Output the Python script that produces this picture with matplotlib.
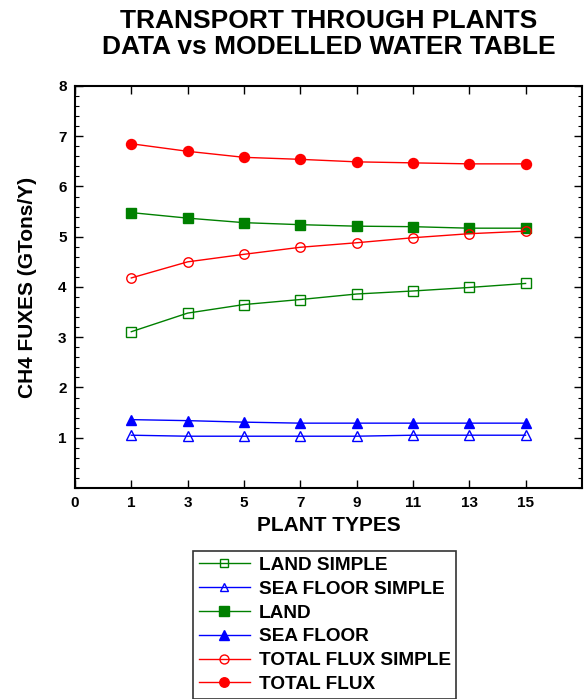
import matplotlib
matplotlib.use('Agg')
import matplotlib.pyplot as plt
from matplotlib.ticker import MultipleLocator, FixedLocator
import numpy as np

plt.rcParams['font.family'] = ['Liberation Sans', 'DejaVu Sans']
plt.rcParams['font.weight'] = 'bold'

# data
plant_types = [1, 3, 5, 7, 9, 11, 13, 15]
land_simple = [3.11, 3.48, 3.65, 3.75, 3.86, 3.92, 3.99, 4.07]
sea_floor_simple = [1.05, 1.03, 1.03, 1.03, 1.03, 1.05, 1.05, 1.05]
land = [5.48, 5.37, 5.28, 5.24, 5.21, 5.20, 5.17, 5.17]
sea_floor = [1.36, 1.34, 1.31, 1.29, 1.29, 1.29, 1.29, 1.29]
total_flux_simple = [4.18, 4.50, 4.65, 4.79, 4.88, 4.98, 5.06, 5.11]
total_flux = [6.85, 6.70, 6.58, 6.54, 6.49, 6.47, 6.45, 6.45]

green = '#008000'
blue = '#0000ff'
red = '#ff0000'

fig = plt.figure(figsize=(5.84, 6.99), dpi=100)
ax = fig.add_axes([0.1284, 0.3019, 0.868, 0.5751])

# plant types are spaced evenly, with a "0" slot at the left edge
xpos = np.arange(1, len(plant_types) + 1)

series = [
    (land_simple, green, 's', 'none', 'LAND SIMPLE'),
    (sea_floor_simple, blue, '^', 'none', 'SEA FLOOR SIMPLE'),
    (land, green, 's', green, 'LAND'),
    (sea_floor, blue, '^', blue, 'SEA FLOOR'),
    (total_flux_simple, red, 'o', 'none', 'TOTAL FLUX SIMPLE'),
    (total_flux, red, 'o', red, 'TOTAL FLUX'),
]
for vals, col, mk, fc, lab in series:
    ms = 7.2 if fc != 'none' else 6.8
    ax.plot(xpos, vals, color=col, lw=1.0, marker=mk, markersize=ms,
            markerfacecolor=fc, markeredgecolor=col, markeredgewidth=1.0,
            label=lab)

ax.set_xlim(0, len(plant_types) + 1)
ax.set_ylim(0, 8)
ax.xaxis.set_major_locator(FixedLocator(np.arange(0, len(plant_types) + 1)))
ax.set_xticklabels(['0'] + [str(p) for p in plant_types])
ax.yaxis.set_major_locator(FixedLocator(np.arange(1, 9)))
ax.yaxis.set_minor_locator(MultipleLocator(0.2))

ax.tick_params(axis='both', which='major', direction='in', length=6, width=1,
               labelsize=11, top=True, right=True, pad=6)
ax.tick_params(axis='y', which='minor', direction='in', length=3, width=0.8,
               right=True)
for lbl in ax.get_xticklabels() + ax.get_yticklabels():
    lbl.set_fontweight('bold')
for sp in ax.spines.values():
    sp.set_linewidth(1.5)

ax.set_xlabel('PLANT TYPES', fontsize=15, fontweight='bold')
ax.set_ylabel('CH4 FUXES (GTons/Y)', fontsize=15, fontweight='bold')
ax.xaxis.set_label_coords(0.5, -0.07)
ax.yaxis.set_label_coords(-0.075, 0.5)

fig.text(0.563, 1 - 21 / 699, 'TRANSPORT THROUGH PLANTS', ha='center',
         va='center', fontsize=19, fontweight='bold')
fig.text(0.563, 1 - 47 / 699, 'DATA vs MODELLED WATER TABLE', ha='center',
         va='center', fontsize=19, fontweight='bold')

leg = ax.legend(loc='upper left', bbox_to_anchor=(193 / 584, 1 - 551 / 699),
                bbox_transform=fig.transFigure, frameon=True, fancybox=False,
                edgecolor='black', fontsize=13.7, handlelength=2.7,
                labelspacing=0.34, borderpad=0.3, handletextpad=0.45,
                borderaxespad=0, markerscale=0.95)
leg.get_frame().set_linewidth(1.2)
for t in leg.get_texts():
    t.set_fontweight('bold')

fig.savefig('out.png', dpi=100)
